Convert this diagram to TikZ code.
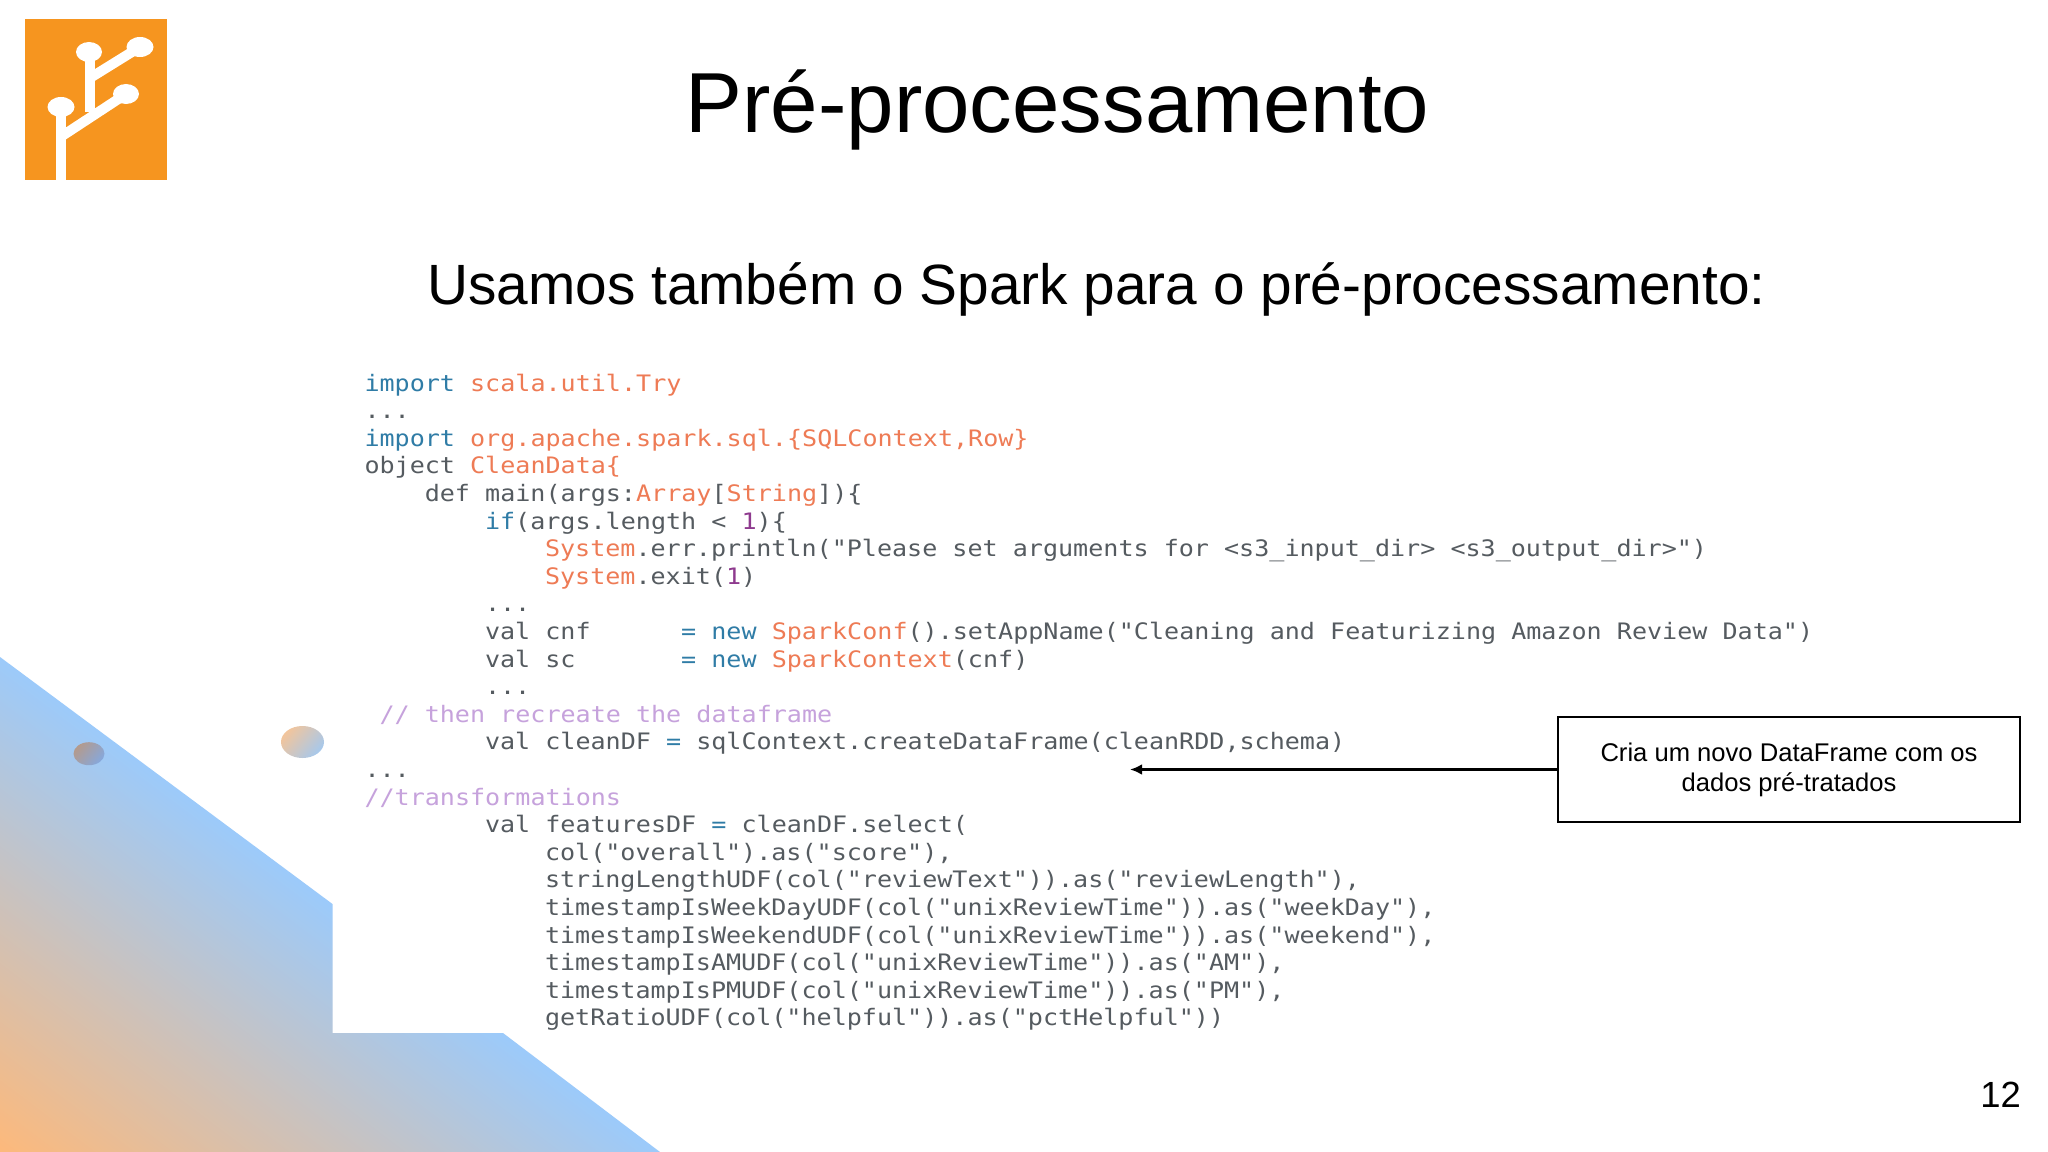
\documentclass[tikz,border=0pt]{standalone}
\usepackage{fontspec}
\usetikzlibrary{arrows.meta}
\setmainfont{Liberation Sans}
\newfontfamily\codefont[FakeStretch=1.106]{DejaVu Sans Mono}
\definecolor{cO}{HTML}{FDB97B}
\definecolor{cB}{HTML}{9CCAFA}
\definecolor{logoO}{HTML}{F6951F}
\definecolor{kwC}{HTML}{2F7CA6}
\definecolor{clC}{HTML}{EE7B55}
\definecolor{txC}{HTML}{555B60}
\definecolor{cmC}{HTML}{C6A2DC}
\definecolor{nmC}{HTML}{8E3A8E}
\definecolor{bigL}{HTML}{F2C59C}
\definecolor{bigR}{HTML}{A6C8EC}
\definecolor{smallL}{HTML}{B49A8C}
\definecolor{smallR}{HTML}{86A8DC}
\pgfdeclarehorizontalshading{diaggrad}{100bp}{color(0bp)=(cO); color(43.8bp)=(cO); color(56.2bp)=(cB); color(100bp)=(cB)}
\newcommand{\kw}[1]{\textcolor{kwC}{#1}}
\newcommand{\cl}[1]{\textcolor{clC}{#1}}
\newcommand{\nm}[1]{\textcolor{nmC}{#1}}
\newcommand{\cm}[1]{\textcolor{cmC}{#1}}
\tikzset{
  codeline/.style={anchor=base west,inner sep=0pt,outer sep=0pt,text=txC,font=\codefont\fontsize{17pt}{20pt}\selectfont},
  logostroke/.style={draw=white,line width=7.5pt},
  logoblob/.style={fill=white},
  callout/.style={draw=black,line width=1.8pt,minimum width=346.5pt,minimum height=78.75pt,inner sep=0pt,align=center,font=\fontsize{19.2pt}{22.5pt}\selectfont},
}
\begin{document}
\begin{tikzpicture}[x=0.75pt,y=-0.75pt]
\useasboundingbox (0,0) rectangle (2048,1152);
\fill[white] (0,0) rectangle (2048,1152);
% background gradient
\begin{scope}
\clip (0,657) -- (332.5,904) -- (332.5,1033) -- (503,1033) -- (660,1152) -- (0,1152) -- cycle;
\shade[shading=diaggrad,shading angle=53] (-681,194) rectangle (919,1794);
\end{scope}
\shade[left color=bigL,right color=bigR,shading angle=50] (302.5,742) ellipse[x radius=21.5,y radius=16];
\shade[left color=smallL,right color=smallR,shading angle=50] (89,753.7) ellipse[x radius=15.5,y radius=11.5];
% logo
\fill[logoO] (25,19) rectangle (167,180);
\draw[logostroke] (60.5,180) -- (60.5,107);
\draw[logostroke] (60.5,137) -- (126,94);
\draw[logostroke] (90,112) -- (90,52);
\draw[logostroke] (90,78) -- (140,47);
\fill[logoblob] (61,107) ellipse[x radius=13.5,y radius=10];
\fill[logoblob] (126,94) ellipse[x radius=13,y radius=10];
\fill[logoblob] (89,52) ellipse[x radius=13,y radius=10];
\fill[logoblob] (140,47) ellipse[x radius=13.5,y radius=10];
% titles
\node[anchor=base,inner sep=0pt,font=\fontsize{63.9pt}{70pt}\selectfont] (title) at (1057.5,133) {Pré-processamento};
\node[anchor=base,inner sep=0pt,font=\fontsize{42.6pt}{50pt}\selectfont] (subtitle) at (1096.5,304.5) {Usamos também o Spark para o pré-processamento:};
% code
\node[codeline] (c1) at (364.5,391) {\kw{import} \cl{scala.util.Try}};
\node[codeline] (c2) at (364.5,418.6) {...};
\node[codeline] (c3) at (364.5,446.2) {\kw{import} \cl{org.apache.spark.sql.\{SQLContext,Row\}}};
\node[codeline] (c4) at (364.5,473.8) {object \cl{CleanData\{}};
\node[codeline] (c5) at (424.8,501.4) {def main(args:\cl{Array}[\cl{String}])\{};
\node[codeline] (c6) at (485,529) {\kw{if}(args.length < \nm{1})\{};
\node[codeline] (c7) at (545,556.6) {\cl{System}.err.println("Please set arguments for <s3\_input\_dir> <s3\_output\_dir>")};
\node[codeline] (c8) at (545,584.2) {\cl{System}.exit(\nm{1})};
\node[codeline] (c9) at (485,611.8) {...};
\node[codeline] (c10) at (485,639.4) {val cnf~~~~~~\kw{=} \kw{new} \cl{SparkConf}().setAppName("Cleaning and Featurizing Amazon Review Data")};
\node[codeline] (c11) at (485,667) {val sc~~~~~~~\kw{=} \kw{new} \cl{SparkContext}(cnf)};
\node[codeline] (c12) at (485,694.6) {...};
\node[codeline] (c13) at (379.5,722.2) {\cm{// then recreate the dataframe}};
\node[codeline] (c14) at (485,749.8) {val cleanDF \kw{=} sqlContext.createDataFrame(cleanRDD,schema)};
\node[codeline] (c15) at (364.5,777.4) {...};
\node[codeline] (c16) at (364.5,805) {\cm{//transformations}};
\node[codeline] (c17) at (485,832.6) {val featuresDF \kw{=} cleanDF.select(};
\node[codeline] (c18) at (545,860.2) {col("overall").as("score"),};
\node[codeline] (c19) at (545,887.8) {stringLengthUDF(col("reviewText")).as("reviewLength"),};
\node[codeline] (c20) at (545,915.4) {timestampIsWeekDayUDF(col("unixReviewTime")).as("weekDay"),};
\node[codeline] (c21) at (545,943) {timestampIsWeekendUDF(col("unixReviewTime")).as("weekend"),};
\node[codeline] (c22) at (545,970.6) {timestampIsAMUDF(col("unixReviewTime")).as("AM"),};
\node[codeline] (c23) at (545,998.2) {timestampIsPMUDF(col("unixReviewTime")).as("PM"),};
\node[codeline] (c24) at (545,1025.8) {getRatioUDF(col("helpful")).as("pctHelpful"))};
% callout
\node[callout] (box) at (1789,769.5) {Cria um novo DataFrame com os\\dados pré-tratados};
\coordinate (tip) at (1130,769.5);
\draw[-{Latex[length=9pt,width=8pt]},line width=1.6pt] (box.west) -- (tip);
% page number
\node[anchor=base east,inner sep=0pt,font=\fontsize{27.3pt}{30pt}\selectfont] (page) at (2021,1107) {12};
\end{tikzpicture}
\end{document}
